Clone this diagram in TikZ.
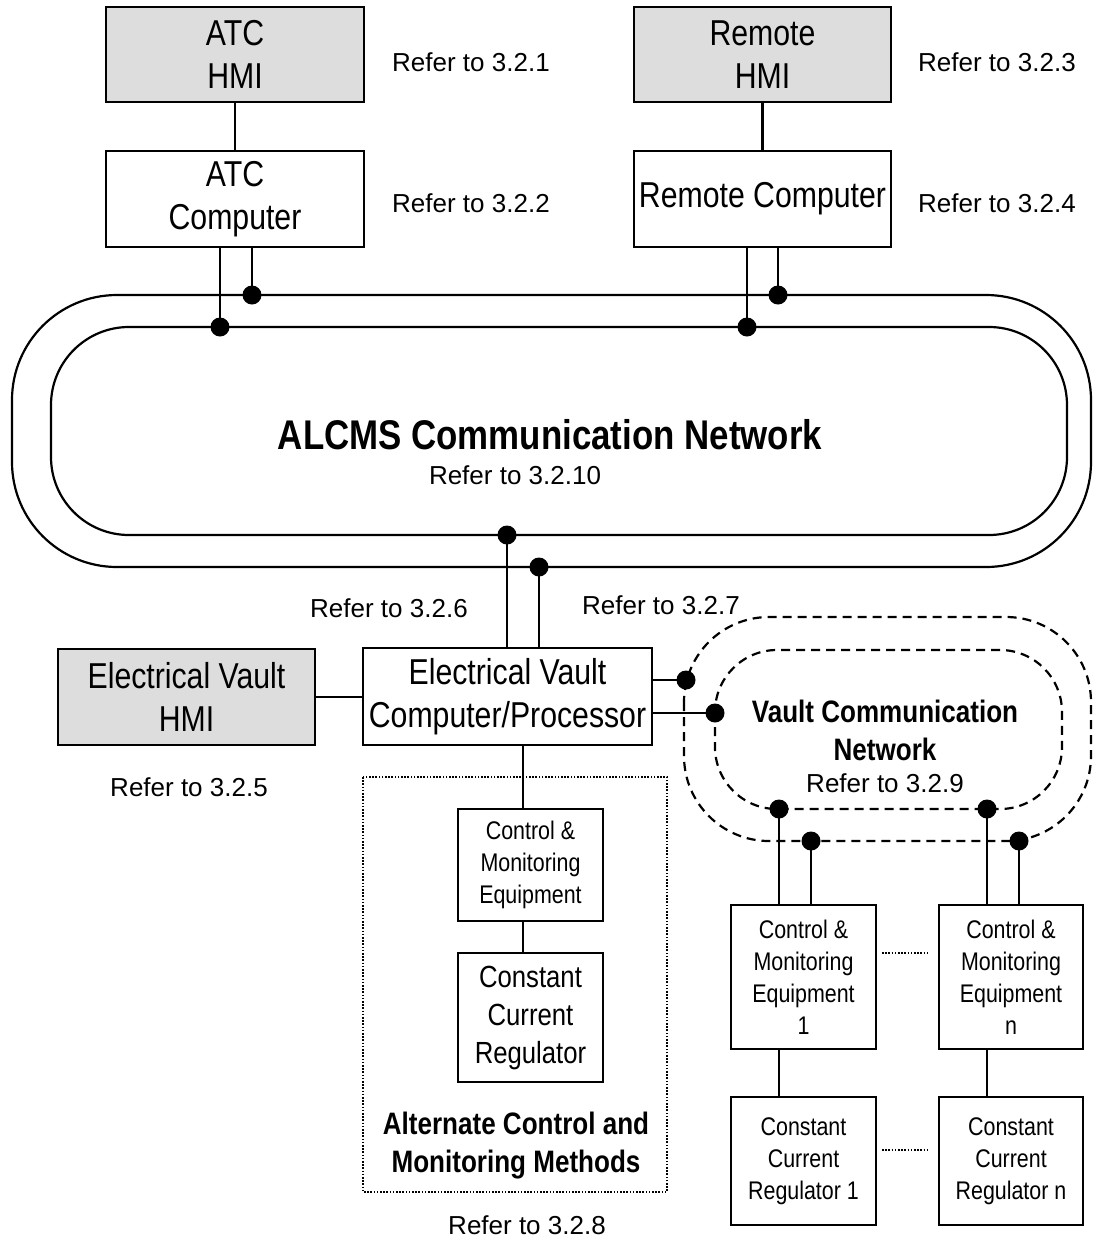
\documentclass[tikz,border=0pt]{standalone}
\usepackage{fontspec}
\setmainfont{Liberation Sans}
\newfontfamily\narrowfont[FakeStretch=0.84]{Liberation Sans}
\definecolor{hmigray}{RGB}{221,221,221}
\begin{document}
\begin{tikzpicture}[x=1pt,y=-1pt,
  box/.style={draw, line width=2.2pt, inner sep=0pt, align=center,
    font=\narrowfont\fontsize{36}{43}\selectfont},
  hmi/.style={box, fill=hmigray},
  smallbox/.style={draw, line width=2.2pt, inner sep=0pt, align=center,
    font=\narrowfont\fontsize{25.5}{32}\selectfont},
  medbox/.style={draw, line width=2.2pt, inner sep=0pt, align=center,
    font=\narrowfont\fontsize{30.6}{38}\selectfont},
  reflabel/.style={inner sep=0pt, font=\fontsize{26}{30}\selectfont},
  boldlabel/.style={inner sep=0pt, align=center,
    font=\narrowfont\bfseries\fontsize{31}{38}\selectfont},
  dot/.style={circle, fill=black, inner sep=0pt, minimum size=19pt},
  conn/.style={line width=2.2pt},
  ring/.style={line width=2.2pt},
  vring/.style={line width=2.2pt, dash pattern=on 9pt off 6pt},
  finedot/.style={line width=1.6pt, dash pattern=on 1.6pt off 1.6pt}]
\useasboundingbox (0,0) rectangle (1093,1243);

% rings
\draw[ring, rounded corners=105pt] (12,295) rectangle (1091,567);
\draw[ring, rounded corners=78pt] (51,327) rectangle (1067,535);
\draw[vring, rounded corners=85pt] (684,617) rectangle (1091,841);
\draw[vring, rounded corners=62pt] (715,650) rectangle (1062,809);

% alternate group frame
\draw[finedot] (363,777) rectangle (667,1192);

% boxes
\node[hmi, minimum width=258pt, minimum height=95pt] (atchmi) at (235,54.5) {ATC\\HMI};
\node[box, minimum width=258pt, minimum height=96pt] (atccomp) at (235,199) {ATC\\Computer};
\node[hmi, minimum width=257pt, minimum height=95pt] (remhmi) at (762.5,54.5) {Remote\\HMI};
\node[box, minimum width=257pt, minimum height=96pt] (remcomp) at (762.5,199) {Remote Computer};
\node[hmi, minimum width=257pt, minimum height=96pt] (evhmi) at (186.5,697) {Electrical Vault\\HMI};
\node[box, minimum width=289pt, minimum height=97pt] (evc) at (507.5,696.5) {Electrical Vault\\Computer/Processor};
\node[smallbox, minimum width=145pt, minimum height=112pt] (acme) at (530.5,865) {Control \&\\Monitoring\\Equipment};
\node[medbox, minimum width=145pt, minimum height=129pt] (accr) at (530.5,1017.5) {Constant\\Current\\Regulator};
\node[smallbox, minimum width=145pt, minimum height=144pt] (cme1) at (803.5,977) {Control \&\\Monitoring\\Equipment\\1};
\node[smallbox, minimum width=144pt, minimum height=144pt] (cmen) at (1011,977) {Control \&\\Monitoring\\Equipment\\n};
\node[smallbox, minimum width=145pt, minimum height=128pt] (ccr1) at (803.5,1161) {Constant\\Current\\Regulator 1};
\node[smallbox, minimum width=144pt, minimum height=128pt] (ccrn) at (1011,1161) {Constant\\Current\\Regulator n};

% dots
\node[dot] (a1) at (220,327) {};
\node[dot] (a2) at (252,295) {};
\node[dot] (r1) at (747,327) {};
\node[dot] (r2) at (778,295) {};
\node[dot] (b1) at (507,535) {};
\node[dot] (b2) at (539,567) {};
\node[dot] (v1) at (686,680) {};
\node[dot] (v2) at (715,713) {};
\node[dot] (w1) at (779,809) {};
\node[dot] (w2) at (811,841) {};
\node[dot] (w3) at (987,809) {};
\node[dot] (w4) at (1019,841) {};

% connectors
\draw[conn] (atchmi) -- (atccomp);
\draw[conn] (remhmi) -- (remcomp);
\draw[conn] (atccomp.south -| a1) -- (a1.center);
\draw[conn] (atccomp.south -| a2) -- (a2.center);
\draw[conn] (remcomp.south -| r1) -- (r1.center);
\draw[conn] (remcomp.south -| r2) -- (r2.center);
\draw[conn] (b1.center) -- (evc.north -| b1);
\draw[conn] (b2.center) -- (evc.north -| b2);
\draw[conn] (evhmi.east) -- (evc.west |- evhmi.east);
\draw[conn] (evc.east |- v1) -- (v1.center);
\draw[conn] (evc.east |- v2) -- (v2.center);
\coordinate (ax) at (523,0);
\draw[conn] (evc.south -| ax) -- (acme.north -| ax);
\draw[conn] (acme.south -| ax) -- (accr.north -| ax);
\draw[conn] (w1.center) -- (cme1.north -| w1);
\draw[conn] (w2.center) -- (cme1.north -| w2);
\draw[conn] (w3.center) -- (cmen.north -| w3);
\draw[conn] (w4.center) -- (cmen.north -| w4);
\draw[conn] (cme1.south -| w1) -- (ccr1.north -| w1);
\draw[conn] (cmen.south -| w3) -- (ccrn.north -| w3);
\coordinate (dl1) at (882,953);
\coordinate (dr1) at (928,953);
\coordinate (dl2) at (882,1150);
\coordinate (dr2) at (928,1150);
\draw[finedot] (dl1) -- (dr1);
\draw[finedot] (dl2) -- (dr2);

% labels
\node[inner sep=0pt, font=\narrowfont\bfseries\fontsize{41.5}{48}\selectfont] (alcms) at (550,435) {ALCMS Communication Network};
\node[reflabel] (ref10) at (515,475) {Refer to 3.2.10};
\node[reflabel, anchor=west] (ref1) at (392,62) {Refer to 3.2.1};
\node[reflabel, anchor=west] (ref2) at (392,203) {Refer to 3.2.2};
\node[reflabel, anchor=west] (ref3) at (918,62) {Refer to 3.2.3};
\node[reflabel, anchor=west] (ref4) at (918,203) {Refer to 3.2.4};
\node[reflabel] (ref5) at (189,787) {Refer to 3.2.5};
\node[reflabel, anchor=west] (ref6) at (310,608) {Refer to 3.2.6};
\node[reflabel, anchor=west] (ref7) at (582,605) {Refer to 3.2.7};
\node[reflabel] (ref8) at (527,1225) {Refer to 3.2.8};
\node[boldlabel] (vcn) at (885,730) {Vault Communication\\Network};
\node[reflabel] (ref9) at (885,783) {Refer to 3.2.9};
\node[boldlabel] (altlabel) at (516,1146) {Alternate Control and\\Monitoring Methods};
\end{tikzpicture}
\end{document}
